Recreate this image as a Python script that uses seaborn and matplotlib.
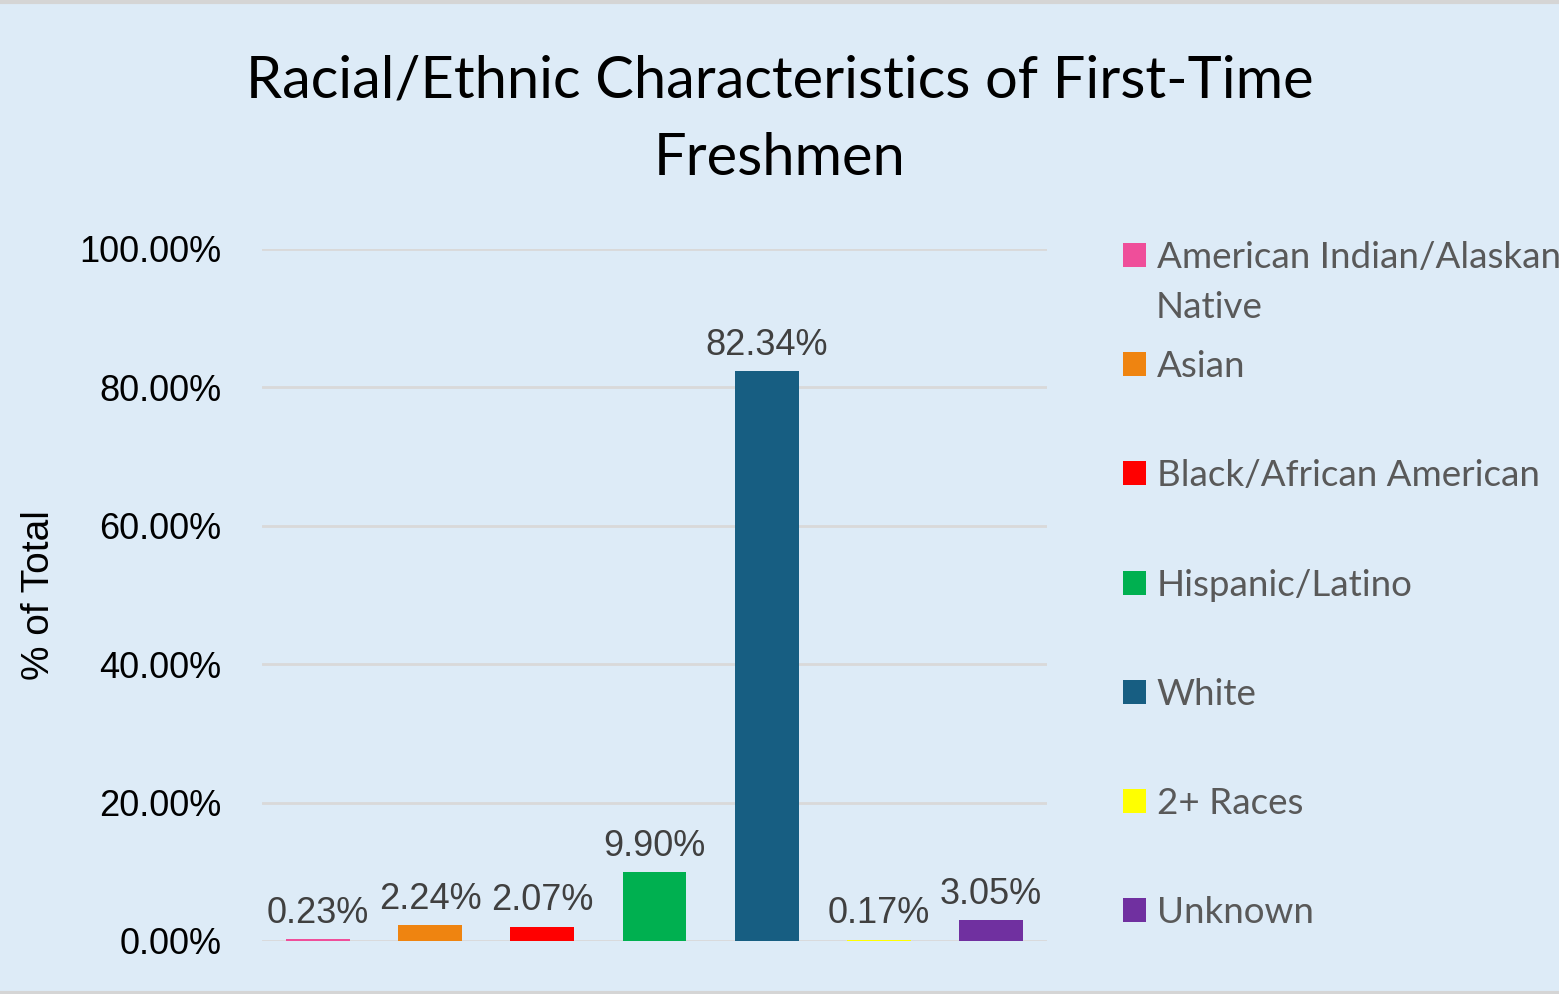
import matplotlib
matplotlib.use("Agg")
import matplotlib.pyplot as plt
from matplotlib.patches import Patch
from matplotlib.lines import Line2D
import seaborn as sns
import pandas as pd

categories = ["American Indian/Alaskan Native", "Asian", "Black/African American",
              "Hispanic/Latino", "White", "2+ Races", "Unknown"]
values = [0.23, 2.24, 2.07, 9.90, 82.34, 0.17, 3.05]
colors = ["#EF4E9A", "#EF8410", "#FF0000", "#00B050", "#175E82", "#FFFF00", "#7030A0"]
legend_labels = ["American Indian/Alaskan", "Asian", "Black/African American",
                 "Hispanic/Latino", "White", "2+ Races", "Unknown"]
yticks = [0, 20, 40, 60, 80, 100]

BG = "#DDEBF7"
sns.set_theme(style="white")
plt.rcParams["font.family"] = ["Liberation Sans", "DejaVu Sans"]

df = pd.DataFrame({"cat": categories, "val": values})

fig = plt.figure(figsize=(15.59, 9.94), dpi=100, facecolor=BG)
ax = fig.add_axes([262/1559, 53/994, 785/1559, 692/994])
ax.set_facecolor(BG)

sns.barplot(data=df, x="cat", y="val", hue="cat", palette=colors, dodge=False,
            width=0.57, legend=False, ax=ax, saturation=1,
            edgecolor="none", linewidth=0)

ax.set_ylim(0, 100)
ax.set_xlim(-0.5, 6.5)
ax.set_yticks(yticks)
ax.set_yticklabels([f"{v:.2f}%" for v in yticks], fontsize=26, color="black")
ax.tick_params(axis="y", length=0, pad=29)
ax.set_xticks([])
ax.set_xlabel("")
ax.grid(axis="y", color="#D9D9D9", linewidth=2)
ax.set_axisbelow(True)
for s in ax.spines.values():
    s.set_visible(False)

ax.set_ylabel("% of Total", fontsize=28, color="black")
ax.yaxis.set_label_coords(-0.261, 0.5)

for cont in ax.containers:
    ax.bar_label(cont, labels=[f"{v:.2f}%" for v in cont.datavalues],
                 padding=6, fontsize=26, color="#404040")

fig.text(0.5, 1 - 97/994, "Racial/Ethnic Characteristics of First-Time",
         ha="center", va="baseline", fontsize=41.6, family=["Lato", "DejaVu Sans"], color="black")
fig.text(0.5, 1 - 175/994, "Freshmen",
         ha="center", va="baseline", fontsize=41.6, family=["Lato", "DejaVu Sans"], color="black")

handles = [Patch(facecolor=c, edgecolor="none") for c in colors]
leg = fig.legend(handles, legend_labels, loc="upper left",
                 bbox_to_anchor=(1123/1559, 1 - 241/994), frameon=False,
                 prop={"family": ["Lato", "DejaVu Sans"], "size": 26.5},
                 handlelength=0.62, handleheight=0.62, handletextpad=0.3,
                 labelspacing=2.07, borderpad=0, borderaxespad=0)
for t in leg.get_texts():
    t.set_color("#595959")
fig.text(1156/1559, 1 - 318/994, "Native", ha="left", va="baseline",
         fontsize=26.5, family=["Lato", "DejaVu Sans"], color="#595959")

fig.add_artist(Line2D([0, 1], [1 - 1.5/994, 1 - 1.5/994], color="#D5D5D5", linewidth=3,
                      transform=fig.transFigure))
fig.add_artist(Line2D([0, 1], [1.5/994, 1.5/994], color="#D5D5D5", linewidth=3,
                      transform=fig.transFigure))

fig.savefig("out.png", dpi=100, facecolor=BG)
